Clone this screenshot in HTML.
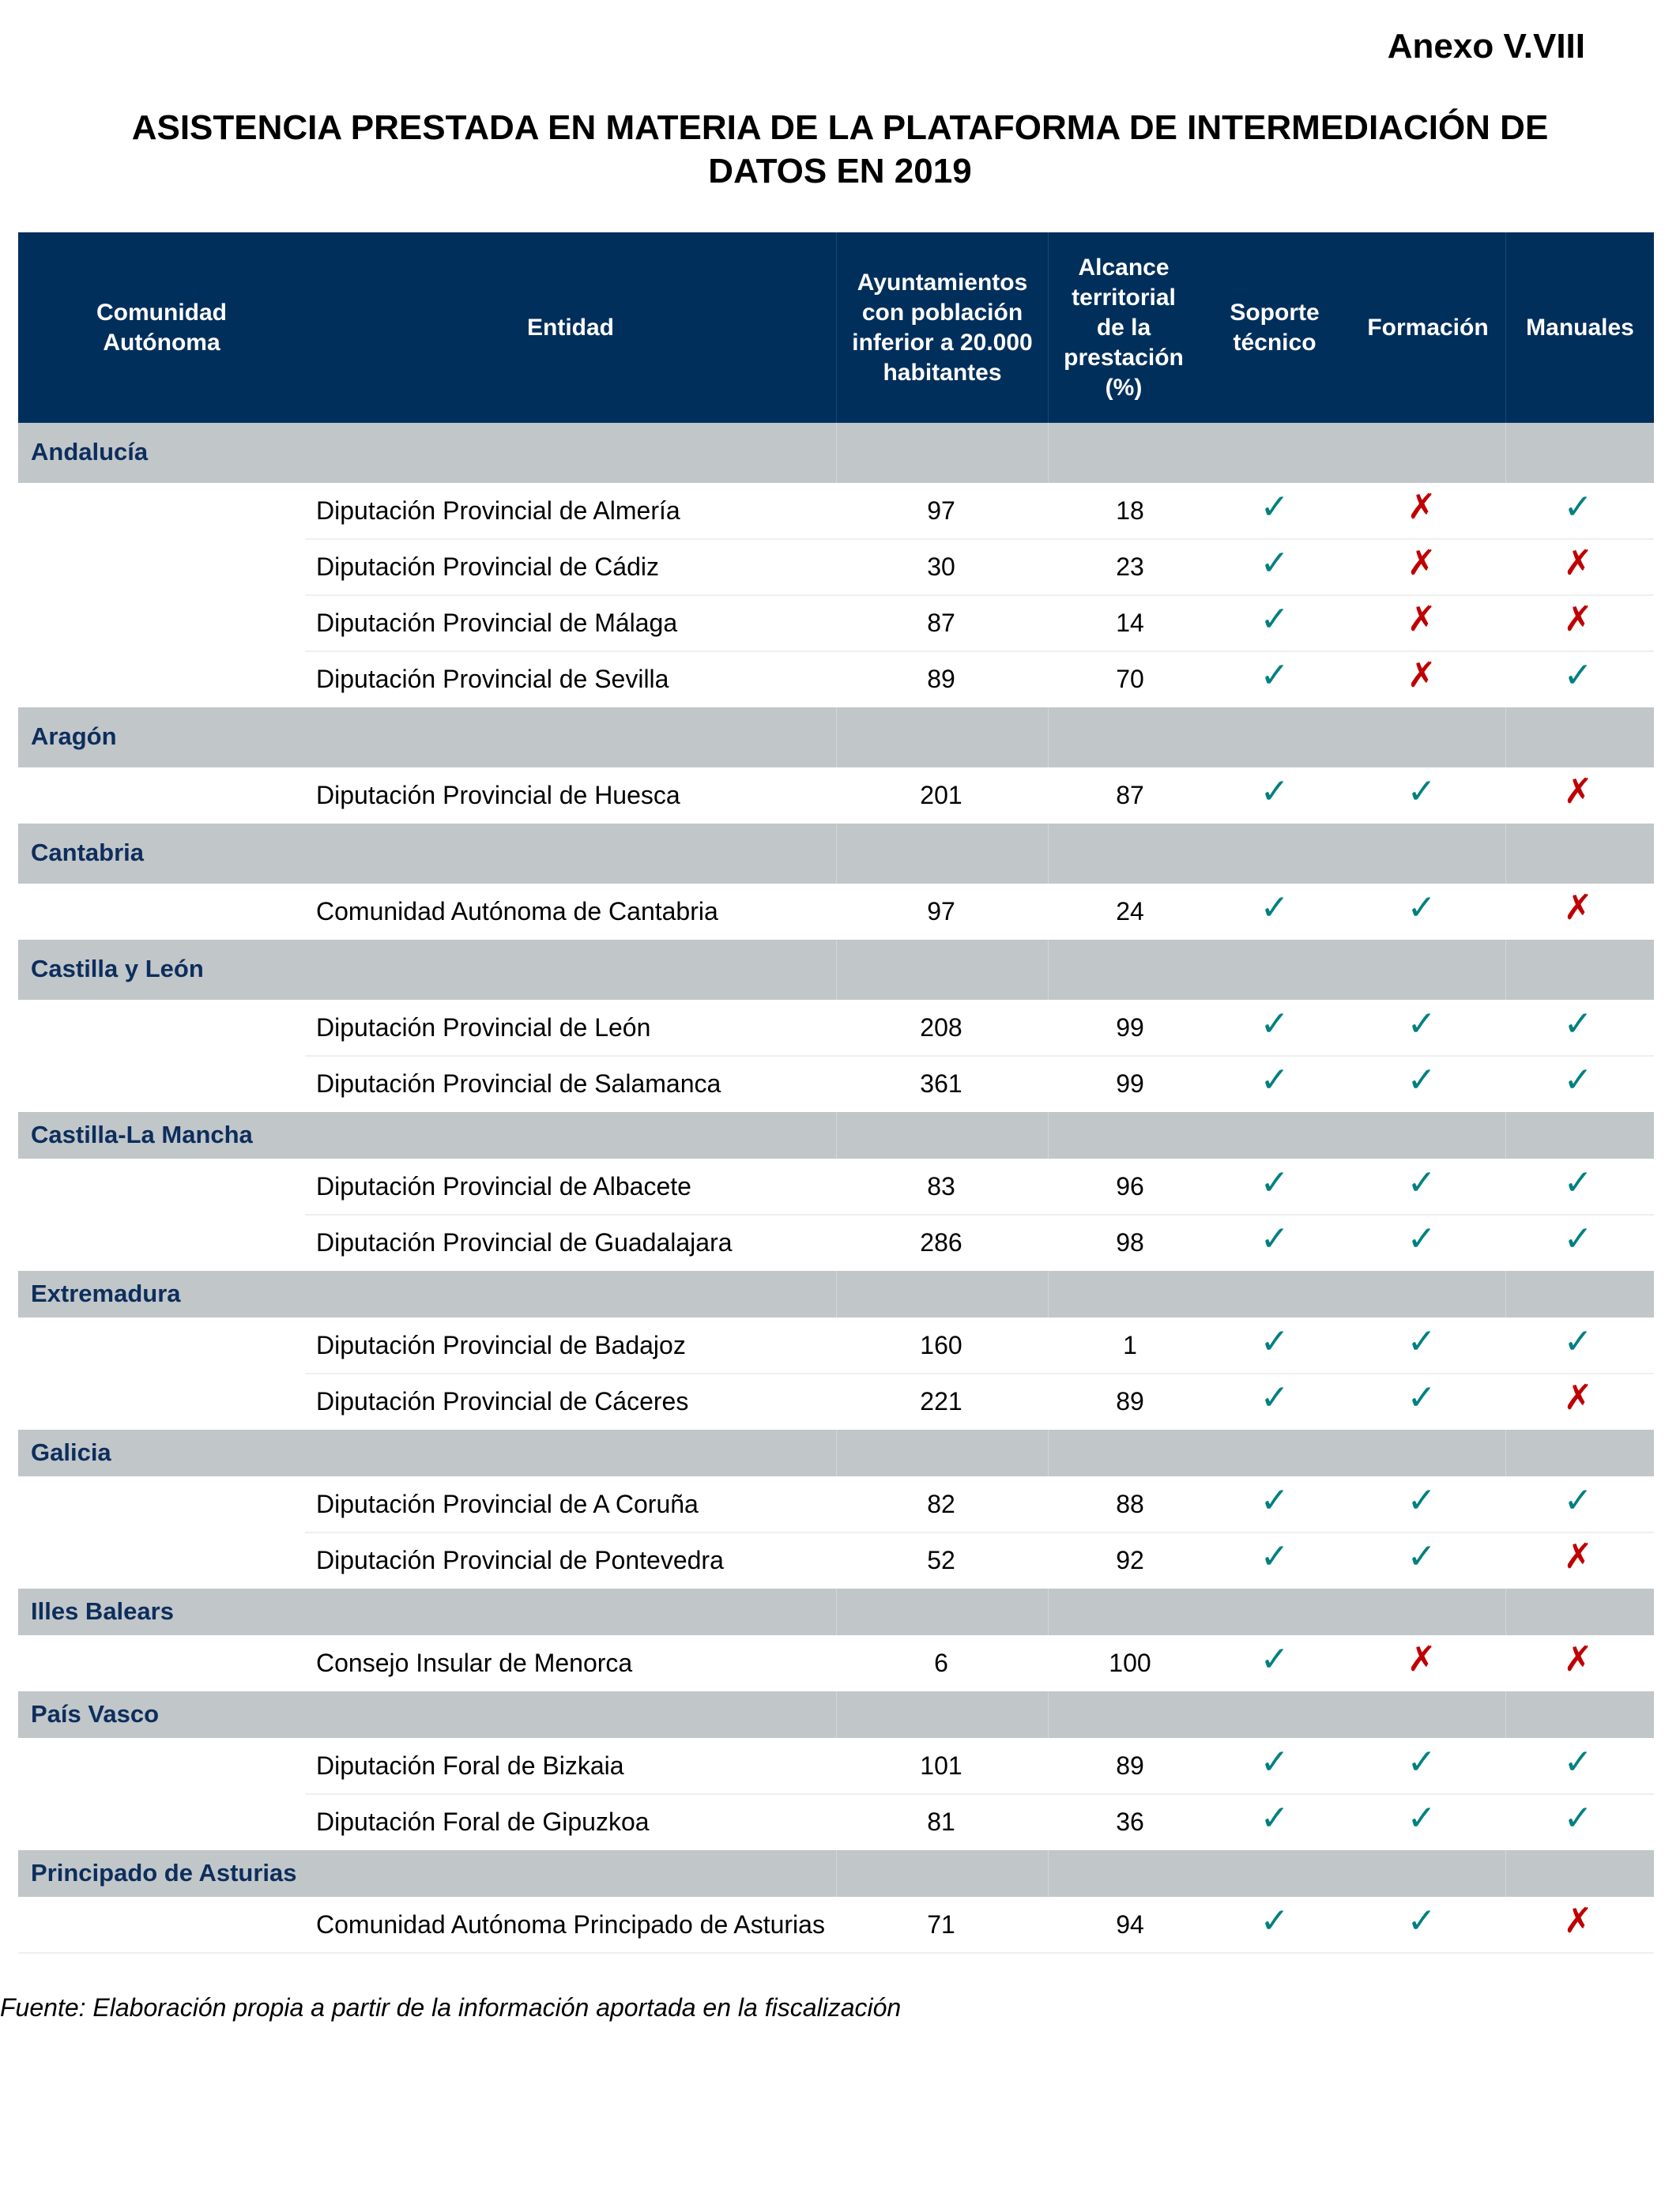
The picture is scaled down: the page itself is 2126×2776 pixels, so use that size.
<!DOCTYPE html>
<html><head><meta charset="utf-8">
<style>
html,body{margin:0;padding:0;background:#fff;}
body{width:2126px;height:2776px;position:relative;overflow:hidden;font-family:"Liberation Sans",Arial,sans-serif;}
.abs{position:absolute;}
#anexo{right:120px;top:34px;font-size:44px;font-weight:bold;color:#000;}
#title{left:0;width:2126px;top:134px;text-align:center;font-size:44px;font-weight:bold;line-height:55px;color:#000;}
.hdr{position:absolute;background:#002f5c;color:#fff;font-weight:bold;font-size:30px;line-height:38px;display:flex;align-items:center;justify-content:center;text-align:center;box-sizing:border-box;}
.band{position:absolute;background:#c1c6c9;left:23px;width:2070px;}
.bandtxt{position:absolute;left:39px;color:#0d2e5c;font-weight:bold;font-size:31px;}
.cell{position:absolute;font-size:32px;color:#000;}
.sep{position:absolute;height:2px;background:#efefef;}
.mark{position:absolute;font-family:"DejaVu Sans",sans-serif;font-size:44px;}
#footer{left:0;top:2522px;font-size:32px;font-style:italic;color:#000;}
</style></head>
<body>
<div id="anexo" class="abs">Anexo V.VIII</div>
<div id="title" class="abs">ASISTENCIA PRESTADA EN MATERIA DE LA PLATAFORMA DE INTERMEDIACIÓN DE<br>DATOS EN 2019</div>
<div id="table"></div>
<div id="footer" class="abs">Fuente: Elaboración propia a partir de la información aportada en la fiscalización</div>
<script>
const headers = ["Comunidad<br>Autónoma","Entidad","Ayuntamientos<br>con población<br>inferior a 20.000<br>habitantes","Alcance<br>territorial<br>de la<br>prestación<br>(%)","Soporte<br>técnico","Formación","Manuales"];
const regions = ["Andalucía","Aragón","Cantabria","Castilla y León","Castilla-La Mancha","Extremadura","Galicia","Illes Balears","País Vasco","Principado de Asturias"];
const entities = [
 ["Diputación Provincial de Almería","Diputación Provincial de Cádiz","Diputación Provincial de Málaga","Diputación Provincial de Sevilla"],
 ["Diputación Provincial de Huesca"],
 ["Comunidad Autónoma de Cantabria"],
 ["Diputación Provincial de León","Diputación Provincial de Salamanca"],
 ["Diputación Provincial de Albacete","Diputación Provincial de Guadalajara"],
 ["Diputación Provincial de Badajoz","Diputación Provincial de Cáceres"],
 ["Diputación Provincial de A Coruña","Diputación Provincial de Pontevedra"],
 ["Consejo Insular de Menorca"],
 ["Diputación Foral de Bizkaia","Diputación Foral de Gipuzkoa"],
 ["Comunidad Autónoma Principado de Asturias"]];
const ayuntamientos = [97,30,87,89,201,97,208,361,83,286,160,221,82,52,6,101,81,71];
const alcance = [18,23,14,70,87,24,99,99,96,98,1,89,88,92,100,89,36,94];
const soporte = [1,1,1,1,1,1,1,1,1,1,1,1,1,1,1,1,1,1];
const formacion = [0,0,0,0,1,1,1,1,1,1,1,1,1,1,0,1,1,1];
const manuales = [1,0,0,1,0,0,1,1,1,1,1,0,1,0,0,1,1,0];

const centers = {ay:1191, al:1430, so:1613, fo:1799, ma:1997};
const tbl = document.getElementById('table');
function mk(cls){const d=document.createElement('div');d.className=cls;tbl.appendChild(d);return d;}
const hTop = 294, hBot = 535;
const hCols = [[23,386],[386,1058],[1058,1326],[1326,1517],[1517,1709],[1709,1905],[1905,2093]];
hCols.forEach((c,i)=>{
  const d = mk('hdr');
  
  d.style.left=c[0]+'px';d.style.width=(c[1]-c[0])+'px';d.style.top=hTop+'px';d.style.height=(hBot-hTop)+'px';
  if(i===2||i===3||i===6) d.style.borderLeft='1px solid #1e4674';
  d.innerHTML=headers[i];
});
let y = hBot; let k = 0;
regions.forEach((r,ri)=>{
  const bh = ri<4 ? 76 : 59;
  const b = mk('band');
  
  b.style.top=y+'px';b.style.height=bh+'px';
  [1058,1326,1905].forEach(x=>{const l=document.createElement('div');l.style.cssText='position:absolute;top:0;bottom:0;width:1px;background:#d3d7d9;left:'+(x-23)+'px';b.appendChild(l);});
  const t = mk('bandtxt');
  
  t.textContent=r;t.style.top=(y+bh/2-19)+'px';
  y+=bh;
  entities[ri].forEach((e,ei)=>{
    const rh=71, cy=y+rh/2;
    const en=mk('cell');
    
    en.textContent=e;en.style.left='400px';en.style.top=(cy-19)+'px';
    const a=mk('cell');
    
    a.textContent=ayuntamientos[k];a.style.left=(centers.ay-60)+'px';a.style.width='120px';a.style.textAlign='center';a.style.top=(cy-19)+'px';
    const al=mk('cell');
    
    al.textContent=alcance[k];al.style.left=(centers.al-60)+'px';al.style.width='120px';al.style.textAlign='center';al.style.top=(cy-19)+'px';
    [[soporte,centers.so,'soporte'],[formacion,centers.fo,'formacion'],[manuales,centers.ma,'manuales']].forEach(m=>{
      const v=m[0][k];
      const mm=mk('mark');
      
      mm.textContent=v?'✓':'✗';
      mm.style.color=v?'#008080':'#c00000';
      mm.style.left=(m[1]-30)+'px';mm.style.width='60px';mm.style.textAlign='center';mm.style.top=(cy-31)+'px';
    });
    y+=rh;
    const isLastInGroup = ei===entities[ri].length-1;
    if(!isLastInGroup || ri===regions.length-1){
      const s=mk('sep');
      
      const x0 = (ri===regions.length-1)?23:386;
      s.style.left=x0+'px';s.style.width=(2093-x0)+'px';s.style.top=(y-1)+'px';
    }
    k++;
  });
});
</script>
</body></html>
